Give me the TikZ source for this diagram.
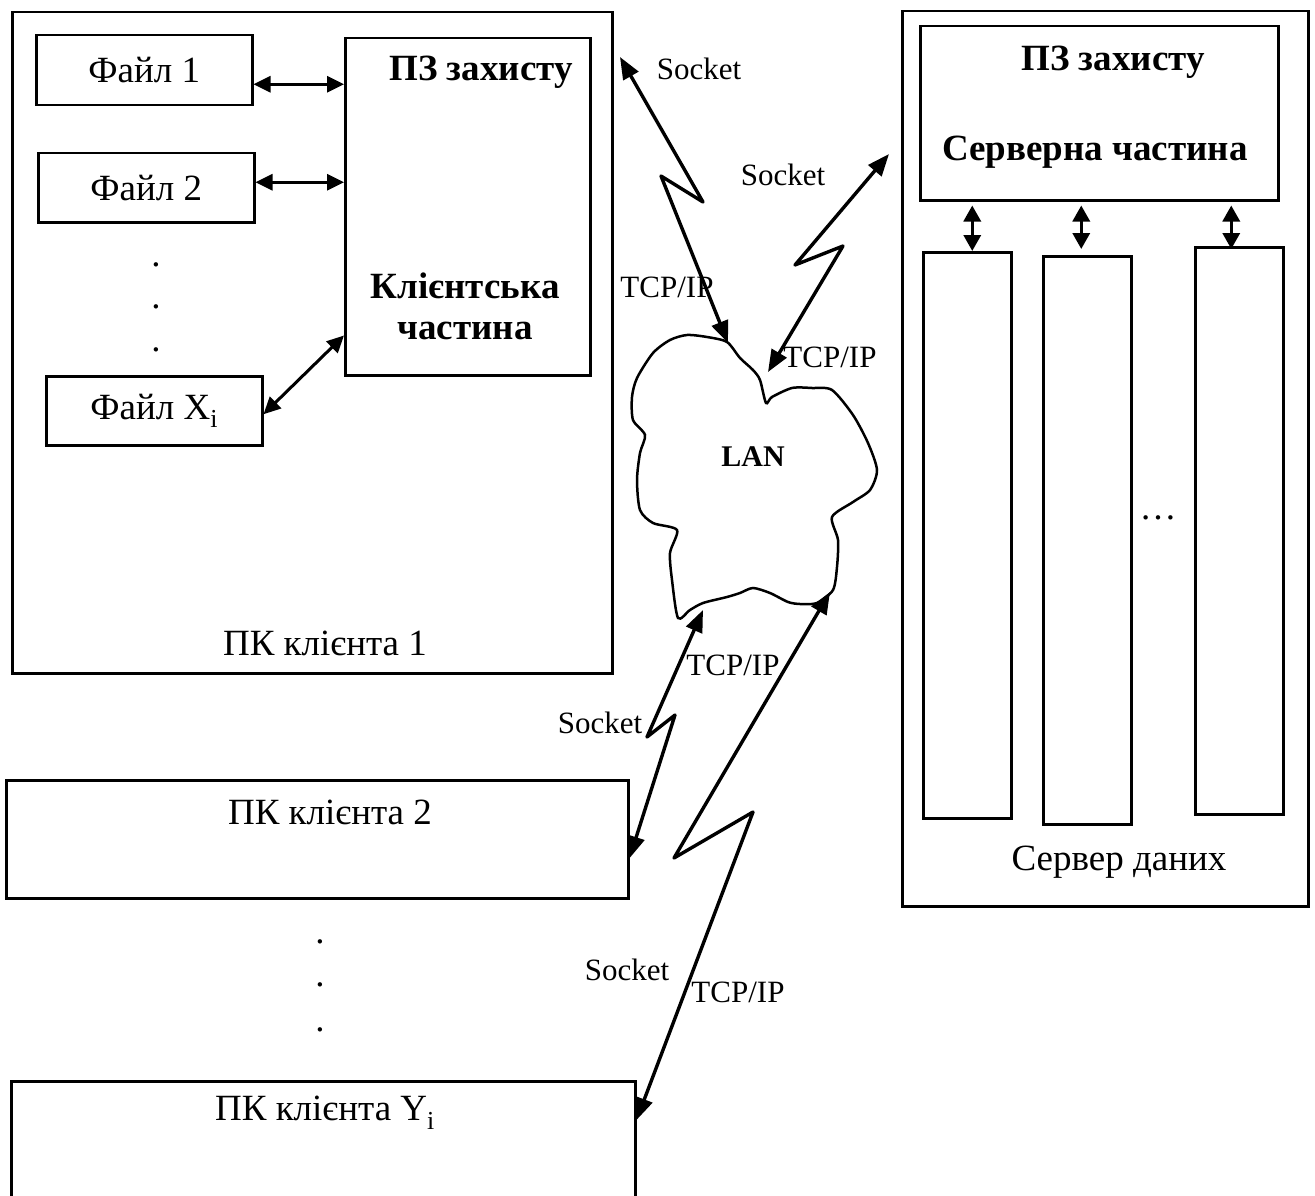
\documentclass[tikz,border=0pt]{standalone}
\usepackage{fontspec}
\setmainfont{Liberation Serif}
\usetikzlibrary{arrows.meta,positioning}
\tikzset{
  pcbox/.style={rectangle, draw, line width=2.5pt, inner sep=0pt, anchor=north west},
  txt/.style={inner sep=0pt, font=\fontsize{37}{41}\selectfont},
  boldtxt/.style={inner sep=0pt, font=\fontsize{37}{41}\selectfont\bfseries},
  nettxt/.style={inner sep=0pt, font=\fontsize{31}{37}\selectfont},
  filearrow/.style={{Triangle[length=17pt,width=16pt]}-{Triangle[length=17pt,width=16pt]}, line width=3pt},
  dbarrow/.style={{Triangle[length=16pt,width=17pt]}-{Triangle[length=16pt,width=17pt]}, line width=3.4pt},
  netarrow/.style={{Triangle[length=22pt,width=17pt]}-{Triangle[length=22pt,width=17pt]}, line width=3.4pt, line join=round},
}
\begin{document}
\begin{tikzpicture}[x=1pt, y=-1pt]
  \clip (0,0) rectangle (1315,1196);

  % client 1
  \node[pcbox, minimum width=600pt, minimum height=661pt] (pc1) at (11,11) {};
  \node[pcbox, txt, minimum width=216pt, minimum height=70pt] (f1) at (35,34) {Файл 1};
  \node[pcbox, txt, minimum width=216pt, minimum height=69pt] (f2) at (37,152) {Файл 2};
  \node[pcbox, txt, minimum width=216pt, minimum height=69pt] (fx) at (45,375) {Файл X\textsubscript{i}};
  \node[pcbox, minimum width=245pt, minimum height=337pt] (pz1) at (344,37) {};
  \node[boldtxt] (pz1top) at (481,72) {ПЗ захисту};
  \node[boldtxt, align=center] (pz1mid) at (465,306) {Клієнтська\\частина};
  \foreach \y in {265,307,350} \node[txt] (fdot\y) at (156,\y) {.};
  \node[txt] (pc1lbl) at (325,643) {ПК клієнта 1};

  \draw[filearrow] ([yshift=-14pt]f1.east) -- ([yshift=-14pt]f1.east -| pz1.west);
  \draw[filearrow] ([yshift=5.5pt]f2.east) -- ([yshift=5.5pt]f2.east -| pz1.west);
  \draw[filearrow] ([yshift=-3.5pt]fx.east) -- ([yshift=41pt]pz1.south west);

  % server
  \node[pcbox, minimum width=406pt, minimum height=895pt] (srv) at (901,10) {};
  \node[pcbox, minimum width=358pt, minimum height=174pt] (pzs) at (919,25) {};
  \node[boldtxt] (pzstop) at (1113,62) {ПЗ захисту};
  \node[boldtxt] (pzsmid) at (1095,152) {Серверна частина};
  \node[pcbox, minimum width=88pt, minimum height=566pt] (db1) at (922,251) {};
  \node[pcbox, minimum width=88pt, minimum height=568pt] (db2) at (1042,255) {};
  \node[pcbox, minimum width=88pt, minimum height=567pt] (db3) at (1194,246) {};
  \node[txt] (dbdots) at (1158,518) {…};
  \node[txt] (srvlbl) at (1119,862) {Сервер даних};

  \coordinate (db1top) at ([xshift=5pt]db1.north);
  \coordinate (db2top) at ([xshift=-6pt]db2.north);
  \coordinate (db3top) at ([xshift=-8pt]db3.north);
  \draw[dbarrow, shorten <=4pt] (db1top |- pzs.south) -- (db1top);
  \draw[dbarrow, shorten <=4pt, shorten >=6pt] (db2top |- pzs.south) -- (db2top);
  \draw[dbarrow, shorten <=4pt, shorten >=-3pt] (db3top |- pzs.south) -- (db3top);

  % other clients
  \node[pcbox, minimum width=622pt, minimum height=118pt] (pc2) at (5,779) {};
  \node[txt] (pc2lbl) at (330,812) {ПК клієнта 2};
  \foreach \y in {942,985,1030} \node[txt] (cdot\y) at (320,\y) {.};
  \node[pcbox, minimum width=624pt, minimum height=140pt] (pcy) at (10,1080) {};
  \node[txt] (pcylbl) at (325,1113) {ПК клієнта Y\textsubscript{i}};

  % network
  \draw[line width=2.5pt] plot[smooth cycle, tension=0.45] coordinates {
    (687,335) (707,337) (727,342) (740,358) (753,370) (760,380) (766,403)
    (772,397) (792,388) (812,388) (832,390) (853,415) (868,443) (877,470)
    (870,490) (853,502) (832,517) (838,540) (837,567) (833,590) (817,603)
    (800,604) (788,602) (770,593) (753,588) (740,593) (727,597) (703,603)
    (690,610) (678,618) (672,580) (670,553) (677,530) (653,523) (640,510)
    (637,480) (640,453) (645,435) (633,420) (632,397) (637,378) (653,353)
    (670,340)};
  \node[inner sep=0pt, font=\fontsize{30}{36}\selectfont\bfseries] (lan) at (753,457) {LAN};

  \coordinate (n1) at (728,343);
  \coordinate (n2) at (768,372);
  \coordinate (n3) at (703,610);
  \coordinate (n4) at (830,592);
  \coordinate (s1) at (620,57);
  \coordinate (s2) at (889,154);
  \coordinate (s3) at ([yshift=-19pt]pc2.east);
  \coordinate (s4) at ([yshift=-40pt]pcy.north east);

  \draw[netarrow] (s1) -- (703,202) -- (661,176) -- (n1);
  \draw[netarrow] (s2) -- (795,265) -- (843,246) -- (n2);
  \draw[netarrow] (n3) -- (647,737) -- (675,715) -- (s3);
  \draw[netarrow] (n4) -- (674,858) -- (753,812) -- (s4);

  \node[nettxt] (sock1) at (699,69) {Socket};
  \node[nettxt] (sock2) at (783,175) {Socket};
  \node[nettxt] (tcp1) at (667,287) {TCP/IP};
  \node[nettxt] (tcp2) at (830,357) {TCP/IP};
  \node[nettxt] (sock3) at (600,723) {Socket};
  \node[nettxt] (tcp3) at (733,665) {TCP/IP};
  \node[nettxt] (sock4) at (627,970) {Socket};
  \node[nettxt] (tcp4) at (738,992) {TCP/IP};
\end{tikzpicture}
\end{document}
